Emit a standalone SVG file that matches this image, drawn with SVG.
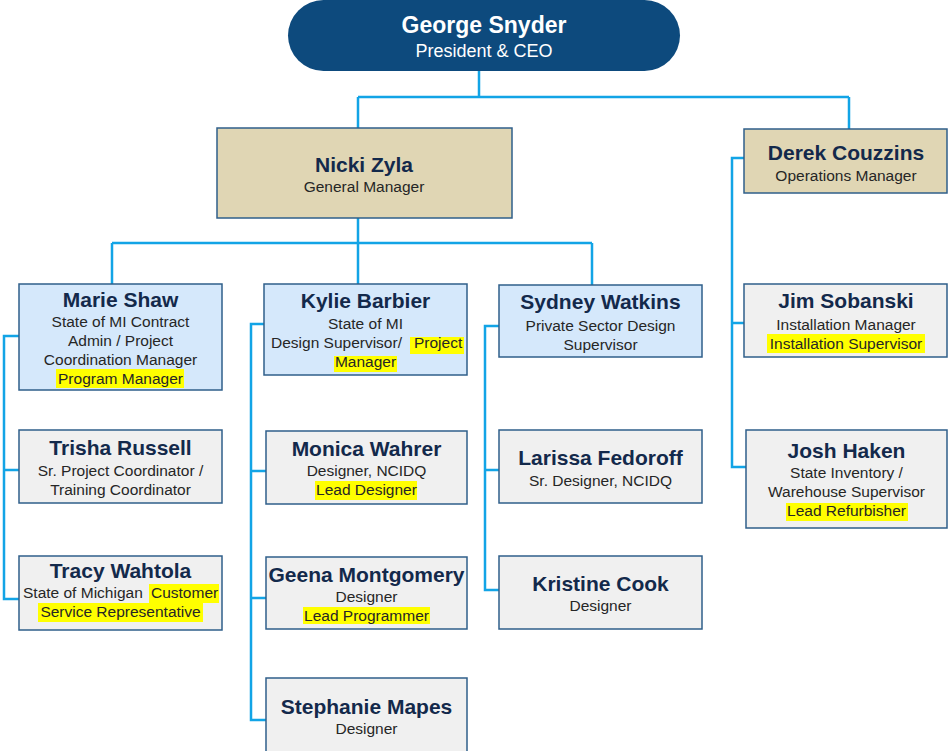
<svg xmlns="http://www.w3.org/2000/svg" width="948" height="751" viewBox="0 0 948 751">
  <style>
    .box { stroke: #2f5f8a; stroke-width: 1.5; }
    .tan { fill: #e0d6b4; }
    .blue { fill: #d5e8fb; }
    .gray { fill: #f0f0f0; }
    .name { font-family: "Liberation Sans", Arial, sans-serif; font-weight: bold; font-size: 21px; fill: #13294b; text-anchor: middle; }
    .sub { font-family: "Liberation Sans", Arial, sans-serif; font-size: 15.5px; fill: #262626; text-anchor: middle; }
    .start { text-anchor: start; }
    .hl { fill: #ffff00; }
    .link { fill: none; stroke: #12a4e6; stroke-width: 2.5; }
  </style>

  <!-- reporting lines -->
  <g id="connectors" class="link">
    <path d="M479 71 V97 M358 97 H849 M358 97 V128 M849 97 V129"/>
    <path d="M358 218 V284 M112 243 H592 M112 243 V284 M592 243 V285"/>
    <path d="M744 158 H732 V467 H746 M732 323 H744"/>
    <path d="M19 336 H4 V599 H19 M4 470 H19"/>
    <path d="M264 324 H251 V720 H266 M251 471 H266 M251 598 H266"/>
    <path d="M499 326 H485 V590 H499 M485 470 H499"/>
  </g>

  <g id="george-snyder">
    <rect x="288" y="0" width="392" height="71" rx="35.5" fill="#0d4a7d"/>
    <text x="484" y="33" font-family="'Liberation Sans', Arial, sans-serif" font-weight="bold" font-size="23" fill="#ffffff" text-anchor="middle">George Snyder</text>
    <text x="484" y="57" font-family="'Liberation Sans', Arial, sans-serif" font-size="18" fill="#ffffff" text-anchor="middle">President &amp; CEO</text>
  </g>

  <g id="nicki-zyla">
    <rect class="box tan" x="217" y="128" width="295" height="90"/>
    <text class="name" x="364" y="172">Nicki Zyla</text>
    <text class="sub" x="364" y="192">General Manager</text>
  </g>

  <g id="derek-couzzins">
    <rect class="box tan" x="744" y="129" width="203" height="64"/>
    <text class="name" x="846" y="160">Derek Couzzins</text>
    <text class="sub" x="846" y="181">Operations Manager</text>
  </g>

  <g id="marie-shaw">
    <rect class="box blue" x="19" y="284" width="203" height="106"/>
    <text class="name" x="120.5" y="307">Marie Shaw</text>
    <text class="sub" x="120.5" y="327">State of MI Contract</text>
    <text class="sub" x="120.5" y="346">Admin / Project</text>
    <text class="sub" x="120.5" y="365">Coordination Manager</text>
    <rect class="hl" x="56" y="369" width="128" height="19"/>
    <text class="sub" x="120.5" y="384">Program Manager</text>
  </g>

  <g id="kylie-barbier">
    <rect class="box blue" x="264" y="284" width="203" height="91"/>
    <text class="name" x="365.5" y="308">Kylie Barbier</text>
    <text class="sub" x="365.5" y="329">State of MI</text>
    <rect class="hl" x="410" y="337" width="54" height="17"/>
    <text class="sub start" x="271" y="348">Design Supervisor/</text>
    <text class="sub start" x="414" y="348">Project</text>
    <rect class="hl" x="334" y="356" width="63" height="16"/>
    <text class="sub" x="365.5" y="367">Manager</text>
  </g>

  <g id="sydney-watkins">
    <rect class="box blue" x="499" y="285" width="203" height="72"/>
    <text class="name" x="600.5" y="309">Sydney Watkins</text>
    <text class="sub" x="600.5" y="331">Private Sector Design</text>
    <text class="sub" x="600.5" y="350">Supervisor</text>
  </g>

  <g id="jim-sobanski">
    <rect class="box gray" x="744" y="284" width="203" height="73"/>
    <text class="name" x="846" y="308">Jim Sobanski</text>
    <text class="sub" x="846" y="330">Installation Manager</text>
    <rect class="hl" x="767" y="334" width="158" height="19"/>
    <text class="sub" x="846" y="349">Installation Supervisor</text>
  </g>

  <g id="trisha-russell">
    <rect class="box gray" x="19" y="430" width="203" height="73"/>
    <text class="name" x="120.5" y="455">Trisha Russell</text>
    <text class="sub" x="120.5" y="476">Sr. Project Coordinator /</text>
    <text class="sub" x="120.5" y="495">Training Coordinator</text>
  </g>

  <g id="tracy-wahtola">
    <rect class="box gray" x="19" y="556" width="203" height="74"/>
    <text class="name" x="120.5" y="578">Tracy Wahtola</text>
    <rect class="hl" x="149" y="584" width="70" height="19"/>
    <text class="sub start" x="23" y="598">State of Michigan</text>
    <text class="sub start" x="151" y="598">Customer</text>
    <rect class="hl" x="38" y="603" width="165" height="19"/>
    <text class="sub" x="120.5" y="617">Service Representative</text>
  </g>

  <g id="monica-wahrer">
    <rect class="box gray" x="266" y="431" width="201" height="73"/>
    <text class="name" x="366.5" y="456">Monica Wahrer</text>
    <text class="sub" x="366.5" y="476">Designer, NCIDQ</text>
    <rect class="hl" x="315" y="481" width="102" height="19"/>
    <text class="sub" x="366.5" y="495">Lead Designer</text>
  </g>

  <g id="geena-montgomery">
    <rect class="box gray" x="266" y="557" width="201" height="72"/>
    <text class="name" x="366.5" y="582">Geena Montgomery</text>
    <text class="sub" x="366.5" y="602">Designer</text>
    <rect class="hl" x="303" y="607" width="127" height="17"/>
    <text class="sub" x="366.5" y="621">Lead Programmer</text>
  </g>

  <g id="stephanie-mapes">
    <rect class="box gray" x="266" y="678" width="201" height="80"/>
    <text class="name" x="366.5" y="714">Stephanie Mapes</text>
    <text class="sub" x="366.5" y="734">Designer</text>
  </g>

  <g id="larissa-fedoroff">
    <rect class="box gray" x="499" y="430" width="203" height="73"/>
    <text class="name" x="600.5" y="465">Larissa Fedoroff</text>
    <text class="sub" x="600.5" y="486">Sr. Designer, NCIDQ</text>
  </g>

  <g id="kristine-cook">
    <rect class="box gray" x="499" y="556" width="203" height="73"/>
    <text class="name" x="600.5" y="591">Kristine Cook</text>
    <text class="sub" x="600.5" y="611">Designer</text>
  </g>

  <g id="josh-haken">
    <rect class="box gray" x="746" y="430" width="201" height="98"/>
    <text class="name" x="846.5" y="458">Josh Haken</text>
    <text class="sub" x="846.5" y="478">State Inventory /</text>
    <text class="sub" x="846.5" y="497">Warehouse Supervisor</text>
    <rect class="hl" x="786" y="503" width="122" height="18"/>
    <text class="sub" x="846.5" y="516">Lead Refurbisher</text>
  </g>
</svg>
